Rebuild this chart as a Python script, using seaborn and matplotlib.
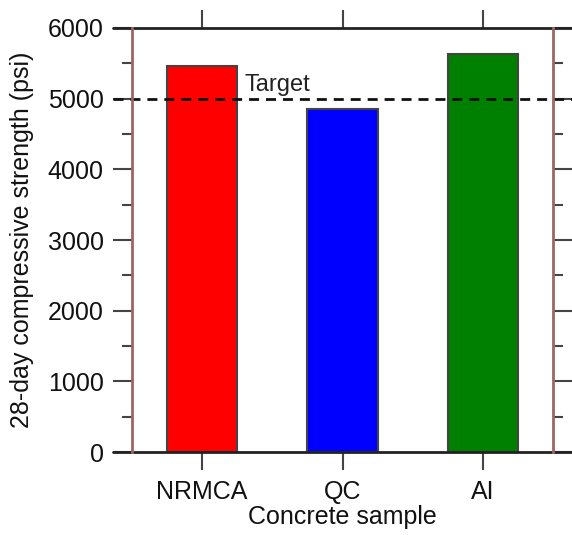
import pandas as pd
import seaborn as sns
import matplotlib.pyplot as plt
from matplotlib.ticker import MultipleLocator

samples = ["NRMCA", "QC", "AI"]
strength = [5460, 4850, 5625]
bar_colors = ["#ff0000", "#0000ff", "#008000"]
target = 5000

df = pd.DataFrame({"sample": samples, "strength": strength})

sns.set_style("white")
plt.rcParams['font.family'] = ['Liberation Sans', 'DejaVu Sans']

fig = plt.figure(figsize=(5.72, 5.35), dpi=100)
ax = fig.add_axes([0.2308, 0.1551, 0.736, 0.7926])

sns.barplot(data=df, x="sample", y="strength", hue="sample",
            palette=bar_colors, saturation=1, width=0.5,
            edgecolor="#444444", linewidth=1.5, legend=False, ax=ax)

ax.set_xlim(-0.5, 2.5)
ax.set_ylim(0, 6000)
ax.yaxis.set_major_locator(MultipleLocator(1000))
ax.yaxis.set_minor_locator(MultipleLocator(500))

# frame: brownish side lines, long black top/bottom lines
for side in ["left", "right"]:
    ax.spines[side].set_color("#9c6666")
    ax.spines[side].set_linewidth(2)
for side in ["top", "bottom"]:
    ax.spines[side].set_visible(False)
tr = ax.get_yaxis_transform()
for yv in [0, 6000]:
    ax.plot([-0.045, 1.045], [yv, yv], color="#222222", lw=2,
            transform=tr, clip_on=False)

# target line
ax.plot([-0.045, 1.045], [target, target], color="#111111", lw=2,
        ls=(0, (3.6, 2.5)), transform=tr, clip_on=False, zorder=1)
ax.text(0.30, target + 110, "Target", fontsize=17, color="#222222",
        ha="left", va="baseline")

ax.tick_params(axis="x", which="both", direction="out", top=True,
               bottom=True, length=13, width=1.5, color="#444444",
               labelsize=18, pad=7, labelcolor="#111111")
ax.tick_params(axis="y", which="major", direction="out", left=True,
               right=True, length=13.5, width=1.5, color="#444444",
               labelsize=18, pad=7, labelcolor="#111111")
ax.tick_params(axis="y", which="minor", direction="out", left=True,
               right=True, length=7, width=1.5, color="#444444")

ax.set_xlabel("Concrete sample", fontsize=18, labelpad=1, color="#111111")
ax.set_ylabel("28-day compressive strength (psi)", fontsize=18,
              labelpad=10, color="#111111")

fig.savefig("out.png", dpi=100)
